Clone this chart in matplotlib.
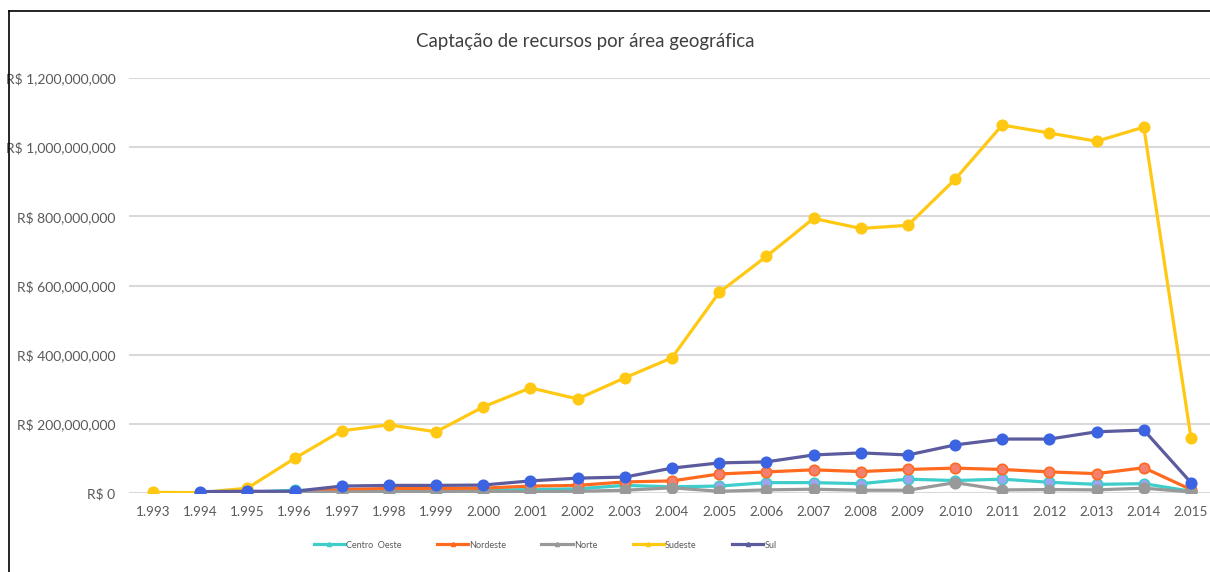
import matplotlib
matplotlib.use("Agg")
import matplotlib.pyplot as plt
from matplotlib.ticker import FuncFormatter, MultipleLocator
from matplotlib.lines import Line2D

plt.rcParams['font.family'] = ['Lato', 'DejaVu Sans']

years = list(range(1993, 2016))
year_labels = ["1.%03d" % (y - 1000) if y < 2000 else "2.%03d" % (y - 2000) for y in years]

# values in millions of R$
sudeste = [2, 1, 14, 100, 180, 197, 177, 249, 304, 272, 333, 391, 580, 684, 794, 765, 774, 907, 1064, 1041, 1017, 1058, 159]
# series below start in 1994
sul = [4, 5, 5, 20, 22, 22, 23, 35, 43, 46, 72, 87, 90, 110, 116, 110, 139, 156, 156, 177, 182, 30]
nordeste = [1, 2, 3, 10, 13, 13, 14, 20, 22, 32, 35, 55, 61, 67, 62, 68, 72, 68, 61, 56, 73, 10]
centro_oeste = [1, 2, 8, 5, 7, 8, 8, 10, 12, 22, 18, 20, 30, 30, 27, 40, 36, 40, 31, 25, 27, 5]
norte = [0.5, 1, 2, 3, 3, 4, 4, 4, 5, 8, 15, 5, 9, 11, 8, 8, 30, 9, 10, 9, 14, 3]

series = [
    ("Centro  Oeste", centro_oeste, years[1:], "#3ECDCB", "#9EA3F2", "#3ECDCB"),
    ("Nordeste", nordeste, years[1:], "#FF6A1F", "#F48070", "#FF6A1F"),
    ("Norte", norte, years[1:], "#999999", "#999999", "#999999"),
    ("Sudeste", sudeste, years, "#FFC812", "#FFC812", "#FFC812"),
    ("Sul", sul, years[1:], "#5C5B9E", "#3B63E2", "#3B63E2"),
]

W, H = 1210, 572
fig = plt.figure(figsize=(W / 100, H / 100), dpi=100)
x0 = 153 - 47.18 / 2
x1 = 1191 + 47.18 / 2
ax = fig.add_axes([x0 / W, (H - 493) / H, (x1 - x0) / W, (493 - 78) / H])

for name, vals, yrs, lc, mfc, mec in series:
    ax.plot(yrs, [v * 1e6 for v in vals], color=lc, lw=2.3, marker='o', ms=7.5,
            mfc=mfc, mec=mec, mew=1.2, zorder=3, solid_joinstyle='round')

ax.set_xlim(1992.5, 2015.5)
ax.set_ylim(0, 1.2e9)
ax.yaxis.set_major_locator(MultipleLocator(2e8))
ax.yaxis.set_major_formatter(FuncFormatter(lambda v, p: "R$ 0" if v == 0 else "R$ {:,.0f}".format(v)))
ax.set_xticks(years)
ax.set_xticklabels(year_labels)
ax.grid(axis='y', color='#D9D9D9', lw=1.5, zorder=0)
for s in ax.spines.values():
    s.set_visible(False)
ax.tick_params(axis='both', length=0, labelcolor='#595959')
ax.tick_params(axis='y', pad=10, labelsize=10)
ax.tick_params(axis='x', pad=9, labelsize=9.7)

fig.text(585 / W, 1 - 41 / H, "Captação de recursos por área geográfica", ha='center', va='center',
         fontsize=13.4, color='#404040')

handles = [Line2D([0], [0], color=lc, lw=2.3, marker='^', ms=3, mfc=lc, mec=lc)
           for name, vals, yrs, lc, mfc, mec in series]
labels = [s[0] for s in series]
fig.legend(handles, labels, loc='center', bbox_to_anchor=(545 / W, 1 - 545 / H), ncol=5,
           frameon=False, fontsize=6.5, labelcolor='#595959', handlelength=3.5,
           handletextpad=0.1, columnspacing=3.9)

# frame lines (left and top)
fig.add_artist(Line2D([9 / W, 9 / W], [0, 1 - 11 / H], color='black', lw=1.2, transform=fig.transFigure))
fig.add_artist(Line2D([9 / W, 1], [1 - 11 / H, 1 - 11 / H], color='black', lw=1.2, transform=fig.transFigure))

fig.savefig("out.png", dpi=100)
